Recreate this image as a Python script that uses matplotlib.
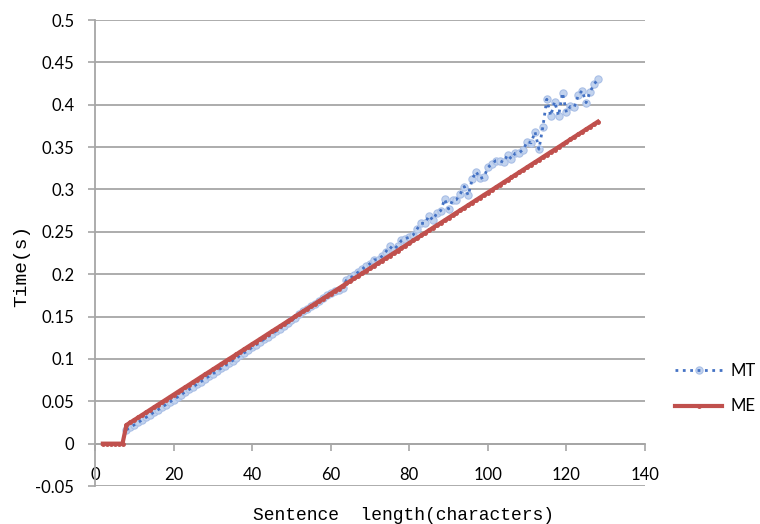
import matplotlib
matplotlib.use('Agg')
import matplotlib.pyplot as plt

# sentence length (characters)
me_lengths = list(range(2, 129))
mt_lengths = list(range(8, 129))

# MT timings (s)
mt = [0.0165, 0.0192, 0.0222, 0.0250, 0.0281, 0.0310, 0.0340, 0.0370, 0.0399, 0.0430,
      0.0459, 0.0490, 0.0521, 0.0550, 0.0580, 0.0611, 0.0641, 0.0672, 0.0702, 0.0733,
      0.0763, 0.0794, 0.0825, 0.0855, 0.0887, 0.0917, 0.0949, 0.0980, 0.1011, 0.1042,
      0.1073, 0.1104, 0.1136, 0.1167, 0.1198, 0.1230, 0.1262, 0.1294, 0.1326, 0.1357,
      0.1390, 0.1422, 0.1455, 0.1487, 0.1525, 0.1560, 0.1592, 0.1625, 0.1650, 0.1680,
      0.1720, 0.1755, 0.1780, 0.1797, 0.1815, 0.1840, 0.1930, 0.1953, 0.1990, 0.2025,
      0.2060, 0.2095, 0.2123, 0.2170, 0.2170, 0.2210, 0.2264, 0.2327, 0.2288, 0.2335,
      0.2398, 0.2420, 0.2437, 0.2465, 0.2535, 0.2600, 0.2600, 0.2690, 0.2640, 0.2720,
      0.2750, 0.2885, 0.2770, 0.2870, 0.2880, 0.2950, 0.3035, 0.2930, 0.3120, 0.3210,
      0.3130, 0.3145, 0.3260, 0.3300, 0.3340, 0.3340, 0.3320, 0.3410, 0.3360, 0.3430,
      0.3435, 0.3470, 0.3565, 0.3550, 0.3680, 0.3475, 0.3740, 0.4065, 0.3870, 0.4037,
      0.3870, 0.4140, 0.3910, 0.3980, 0.3970, 0.4110, 0.4167, 0.4025, 0.4150, 0.4240,
      0.4300]

# ME timings (s)
me = [0, 0, 0, 0, 0, 0,
      0.0220, 0.0250, 0.0280, 0.0309, 0.0339, 0.0369, 0.0399, 0.0429, 0.0459, 0.0488,
      0.0518, 0.0548, 0.0578, 0.0608, 0.0638, 0.0667, 0.0697, 0.0727, 0.0757, 0.0787,
      0.0817, 0.0846, 0.0876, 0.0906, 0.0936, 0.0966, 0.0996, 0.1025, 0.1055, 0.1085,
      0.1115, 0.1145, 0.1175, 0.1204, 0.1234, 0.1264, 0.1294, 0.1324, 0.1354, 0.1383,
      0.1413, 0.1443, 0.1473, 0.1503, 0.1533, 0.1562, 0.1592, 0.1622, 0.1652, 0.1682,
      0.1712, 0.1741, 0.1771, 0.1801, 0.1831, 0.1861, 0.1891, 0.1920, 0.1950, 0.1980,
      0.2010, 0.2040, 0.2069, 0.2099, 0.2129, 0.2159, 0.2189, 0.2219, 0.2248, 0.2278,
      0.2308, 0.2338, 0.2368, 0.2398, 0.2427, 0.2457, 0.2487, 0.2517, 0.2547, 0.2577,
      0.2606, 0.2636, 0.2666, 0.2696, 0.2726, 0.2756, 0.2785, 0.2815, 0.2845, 0.2875,
      0.2905, 0.2935, 0.2964, 0.2994, 0.3024, 0.3054, 0.3084, 0.3114, 0.3143, 0.3173,
      0.3203, 0.3233, 0.3263, 0.3293, 0.3322, 0.3352, 0.3382, 0.3412, 0.3442, 0.3471,
      0.3501, 0.3531, 0.3561, 0.3591, 0.3621, 0.3650, 0.3680, 0.3710, 0.3740, 0.3770,
      0.3800]

x_ticks = [0, 20, 40, 60, 80, 100, 120, 140]
y_ticks = [-0.05, 0, 0.05, 0.1, 0.15, 0.2, 0.25, 0.3, 0.35, 0.4, 0.45, 0.5]
y_labels = ['-0.05', '0', '0.05', '0.1', '0.15', '0.2', '0.25', '0.3', '0.35', '0.4', '0.45', '0.5']

plt.rcParams['font.family'] = ['Lato', 'DejaVu Sans']

fig = plt.figure(figsize=(7.6, 5.24), dpi=100)
ax = fig.add_axes([0.125, 0.0725, 0.7237, 0.8893])

grid_c = '#a6a6a6'
for v in y_ticks:
    ax.axhline(v, color=grid_c, lw=1.3, zorder=0)

# MT: soft markers with the dotted line drawn over them
mt_mk, = ax.plot(mt_lengths, mt, linestyle='none', marker='o', markersize=5.2,
                 markerfacecolor='#c2d3ee', markeredgecolor='#a9bfe6',
                 markeredgewidth=0.8, zorder=2)
mt_ln, = ax.plot(mt_lengths, mt, linestyle=':', color='#4472c4', lw=2.0, zorder=2.5)
me_ln, = ax.plot(me_lengths, me, linestyle='-', color='#c0504d', lw=3.0,
                 marker='o', markersize=2.5, markerfacecolor='#c0504d',
                 markeredgecolor='#c0504d', zorder=3)

ax.set_xlim(0, 140)
ax.set_ylim(-0.05, 0.5)
ax.set_xticks(x_ticks)
ax.set_yticks(y_ticks)
ax.set_yticklabels(y_labels)

for s in ['top', 'right']:
    ax.spines[s].set_visible(False)
ax.spines['bottom'].set_position(('data', 0))
ax.spines['bottom'].set_color(grid_c)
ax.spines['bottom'].set_linewidth(1.3)
ax.spines['left'].set_color(grid_c)
ax.spines['left'].set_linewidth(1.3)
ax.tick_params(axis='both', direction='out', length=5, width=1.2,
               color=grid_c, labelsize=12, labelcolor='black')
ax.tick_params(axis='x', pad=12)
ax.tick_params(axis='y', pad=10)

fig.text(0.531, 0.017, 'Sentence  length(characters)', family='Liberation Mono',
         fontsize=13, ha='center', va='center')
fig.text(0.028, 0.492, 'Time(s)', family='Liberation Mono',
         fontsize=14, ha='center', va='center', rotation=90)

fig.legend([(mt_mk, mt_ln), me_ln], ['MT', 'ME'], loc='center left',
           bbox_to_anchor=(0.88, 0.258), borderaxespad=0, frameon=False,
           fontsize=12, handlelength=2.8, labelspacing=1.16, handletextpad=0.5)

fig.savefig('out.png', dpi=100)
